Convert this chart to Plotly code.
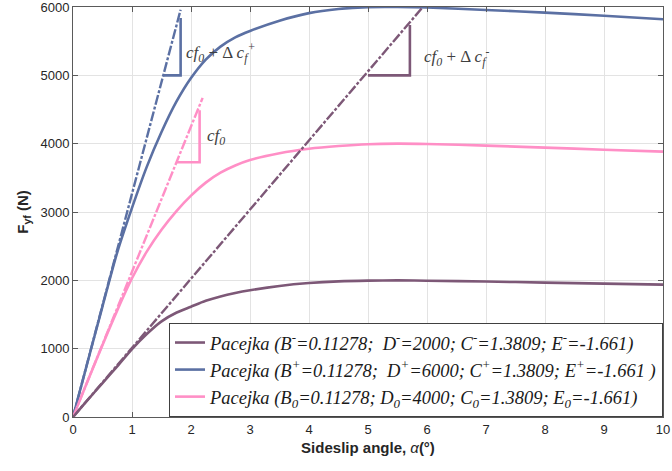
import plotly.graph_objects as go

# ---- data ----
alpha = [0, 0.25, 0.5, 0.75, 1, 1.25, 1.5, 1.75, 2, 2.25, 2.5, 2.75, 3, 3.5, 4, 4.5, 5, 5.5, 6, 7, 8, 9, 10]
f_minus = [0, 250, 497, 742, 995, 1215, 1400, 1525, 1614, 1700, 1765, 1815, 1855, 1918, 1960, 1985, 1996, 1999, 1995, 1982, 1967, 1952, 1937]
f_plus = [0, 812, 1620, 2410, 3060, 3660, 4170, 4610, 4960, 5230, 5420, 5555, 5650, 5800, 5910, 5970, 5998, 6000, 5992, 5957, 5918, 5872, 5820]
f_zero = [0, 530, 1055, 1560, 2030, 2420, 2740, 3010, 3240, 3430, 3575, 3680, 3760, 3860, 3925, 3965, 3992, 4000, 3995, 3972, 3942, 3912, 3883]

tan_plus_x = [0, 1.824]
tan_plus_y = [0, 5960]
tan_zero_x = [0, 2.197]
tan_zero_y = [0, 4670]
tan_minus_x = [0, 5.93]
tan_minus_y = [0, 6000]

tri_plus_x = [1.535, 1.824, 1.824]
tri_plus_y = [5000, 5000, 5840]
tri_zero_x = [1.76, 2.146, 2.146]
tri_zero_y = [3727, 3727, 4490]
tri_minus_x = [5.0, 5.71, 5.71]
tri_minus_y = [5000, 5000, 5737]

x_ticks = list(range(0, 11))
y_ticks = [0, 1000, 2000, 3000, 4000, 5000, 6000]

c_minus = "#7d5877"
c_plus = "#5b70a3"
c_zero = "#ff8fc6"

NB = "\u00a0"
names = [
    f"<i>Pacejka (B<sup>-</sup>=0.11278;{NB} D<sup>-</sup>=2000; C<sup>-</sup>=1.3809; E<sup>-</sup>=-1.661)</i>",
    f"<i>Pacejka (B<sup>+</sup>=0.11278;{NB} D<sup>+</sup>=6000; C<sup>+</sup>=1.3809; E<sup>+</sup>=-1.661 )</i>",
    "<i>Pacejka (B<sub>0</sub>=0.11278; D<sub>0</sub>=4000; C<sub>0</sub>=1.3809; E<sub>0</sub>=-1.661)</i>",
]

fig = go.Figure()
for ys, col, nm in [(f_minus, c_minus, names[0]), (f_plus, c_plus, names[1]), (f_zero, c_zero, names[2])]:
    fig.add_trace(go.Scatter(x=alpha, y=ys, mode="lines", name=nm,
                             line=dict(color=col, width=2.6, shape="spline", smoothing=0.8)))

for tx, ty, col in [(tan_plus_x, tan_plus_y, c_plus), (tan_zero_x, tan_zero_y, c_zero), (tan_minus_x, tan_minus_y, c_minus)]:
    fig.add_trace(go.Scatter(x=tx, y=ty, mode="lines", showlegend=False, hoverinfo="skip",
                             line=dict(color=col, width=2.4, dash="10px,2px,3px,2px")))

for tx, ty, col in [(tri_plus_x, tri_plus_y, c_plus), (tri_zero_x, tri_zero_y, c_zero), (tri_minus_x, tri_minus_y, c_minus)]:
    fig.add_trace(go.Scatter(x=tx, y=ty, mode="lines", showlegend=False, hoverinfo="skip",
                             line=dict(color=col, width=2.6)))

serif = "Liberation Serif"
ann_font = dict(family=serif, size=17, color="#404040")
fig.add_annotation(x=2.5, y=5340, xref="x", yref="y", showarrow=False, font=ann_font,
                   text="<i>cf<sub>0</sub></i> + Δ <i>c<sub>f</sub><sup>+</sup></i>")
fig.add_annotation(x=2.43, y=4100, xref="x", yref="y", showarrow=False, font=ann_font,
                   text="<i>cf<sub>0</sub></i>")
fig.add_annotation(x=6.5, y=5270, xref="x", yref="y", showarrow=False, font=ann_font,
                   text="<i>cf<sub>0</sub></i> + Δ <i>c<sub>f</sub><sup>-</sup></i>")

axis_common = dict(showgrid=True, gridcolor="#e3e3e3", gridwidth=1, zeroline=False,
                   showline=True, linecolor="#5a5a5a", linewidth=1, mirror="ticks",
                   ticks="inside", ticklen=5, tickcolor="#5a5a5a", automargin=False,
                   ticklabeloverflow="allow",
                   tickfont=dict(family="Liberation Sans, Arial, sans-serif", size=13, color="#262626"))

fig.update_layout(
    width=672, height=471,
    margin=dict(l=73, r=9, t=7, b=54),
    paper_bgcolor="white", plot_bgcolor="white",
    xaxis=dict(range=[0, 10], tickvals=x_ticks, **axis_common,
               title=dict(text="<b>Sideslip angle, </b><i>α</i><b>(°)</b>", standoff=6,
                          font=dict(family="Liberation Sans, Arial, sans-serif", size=15, color="#262626"))),
    yaxis=dict(range=[0, 6000], tickvals=y_ticks, **axis_common,
               title=dict(text="<b>F<sub>yf</sub> (N)</b>", standoff=8,
                          font=dict(family="Liberation Sans, Arial, sans-serif", size=15, color="#262626"))),
    legend=dict(x=1, y=0, xanchor="right", yanchor="bottom",
                bgcolor="white", bordercolor="#404040", borderwidth=1,
                font=dict(family=serif, size=18.5, color="#1a1a1a"),
                itemwidth=30, tracegroupgap=0),
    showlegend=True,
)

fig.write_html("out.html", config={"displayModeBar": False},
               post_script="document.body.style.margin='0';document.body.style.overflow='hidden';")
